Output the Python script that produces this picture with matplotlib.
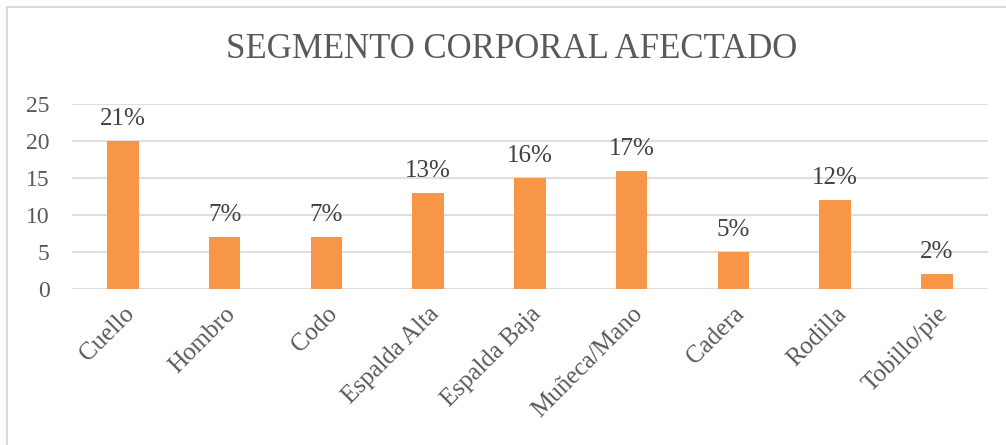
import matplotlib.pyplot as plt
import numpy as np
from matplotlib.patches import Rectangle

# Data
categorias = ['Cuello', 'Hombro', 'Codo', 'Espalda Alta', 'Espalda Baja',
              'Muñeca/Mano', 'Cadera', 'Rodilla', 'Tobillo/pie']
valores = [20, 7, 7, 13, 15, 16, 5, 12, 2]
porcentajes = ['21%', '7%', '7%', '13%', '16%', '17%', '5%', '12%', '2%']

plt.rcParams['font.family'] = ['Liberation Serif', 'DejaVu Serif']
gris = '#595959'

fig = plt.figure(figsize=(10.06, 4.45), dpi=100)
ax = fig.add_axes([0.0716, 0.3506, 0.9104, 0.4154])

x = np.arange(len(categorias))
ax.bar(x, valores, width=0.31, color='#F79646', zorder=3)
for xi, v, p in zip(x, valores, porcentajes):
    ax.text(xi, v + 1.5, p, ha='center', va='bottom', fontsize=18, color='#404040')

ax.set_xlim(-0.5, len(categorias) - 0.5)
ax.set_ylim(0, 25)
ax.set_yticks(range(0, 26, 5))
ax.yaxis.grid(True, color='#D9D9D9', linewidth=1.2, zorder=0)
ax.tick_params(axis='y', length=0, labelsize=17, labelcolor=gris, pad=16)
ax.tick_params(axis='x', length=0, pad=10)
ax.set_xticks(x)
ax.set_xticklabels(categorias, rotation=45, ha='right', va='top',
                   rotation_mode='anchor', fontsize=18, color=gris)
for s in ax.spines.values():
    s.set_visible(False)

fig.text(0.509, 0.888, 'SEGMENTO CORPORAL AFECTADO', ha='center', va='center',
         fontsize=25, color=gris)

fig.patches.append(Rectangle((7 / 1006, -0.1), 1.2, 1 - 7 / 445 + 0.1,
                             transform=fig.transFigure, fill=False,
                             edgecolor='#D9D9D9', linewidth=1.5))

fig.savefig('out.png', dpi=100)
